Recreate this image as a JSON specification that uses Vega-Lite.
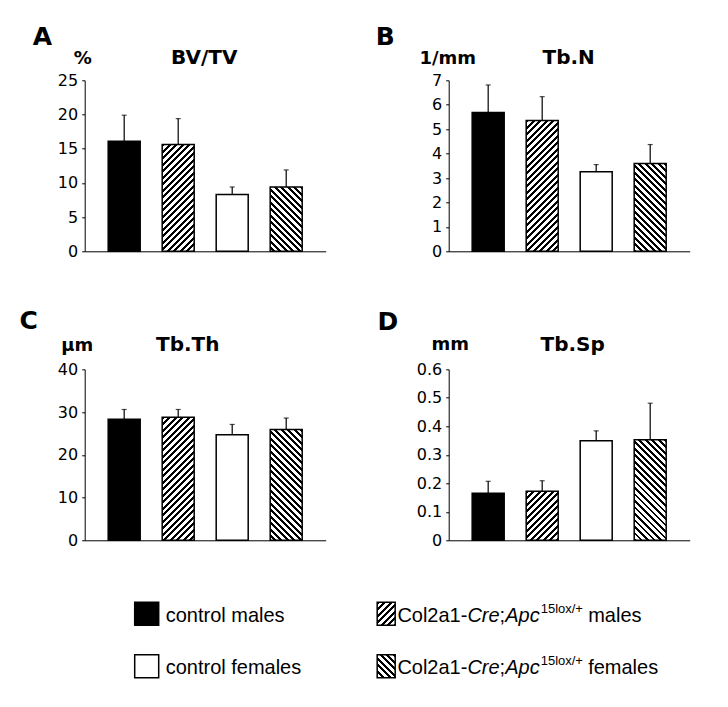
{
  "$schema": "https://vega.github.io/schema/vega-lite/v6.json",
  "background": "white",
  "padding": {"left": 18.7, "top": 24.3, "right": 5, "bottom": 5},
  "config": {
    "view": {"stroke": null},
    "axis": {"grid": false, "labelOverlap": false, "labelFont": "DejaVu Sans", "labelFontSize": 16, "labelColor": "black", "labelPadding": 4, "tickSize": 3, "tickColor": "black", "domainColor": "black", "titleFont": "DejaVu Sans", "titleFontWeight": "bold", "titleColor": "black"},
    "title": {"font": "DejaVu Sans", "fontSize": 25, "fontWeight": "bold", "color": "black"}
  },
  "params": [
    {"name": "hatch", "value": [
{"offset":0,"color":"#000"},{"offset":0.01731,"color":"#000"},{"offset":0.01731,"color":"#fff"},{"offset":0.03846,"color":"#fff"},
{"offset":0.03846,"color":"#000"},{"offset":0.05577,"color":"#000"},{"offset":0.05577,"color":"#fff"},{"offset":0.07692,"color":"#fff"},
{"offset":0.07692,"color":"#000"},{"offset":0.09423,"color":"#000"},{"offset":0.09423,"color":"#fff"},{"offset":0.11538,"color":"#fff"},
{"offset":0.11538,"color":"#000"},{"offset":0.13269,"color":"#000"},{"offset":0.13269,"color":"#fff"},{"offset":0.15385,"color":"#fff"},
{"offset":0.15385,"color":"#000"},{"offset":0.17115,"color":"#000"},{"offset":0.17115,"color":"#fff"},{"offset":0.19231,"color":"#fff"},
{"offset":0.19231,"color":"#000"},{"offset":0.20962,"color":"#000"},{"offset":0.20962,"color":"#fff"},{"offset":0.23077,"color":"#fff"},
{"offset":0.23077,"color":"#000"},{"offset":0.24808,"color":"#000"},{"offset":0.24808,"color":"#fff"},{"offset":0.26923,"color":"#fff"},
{"offset":0.26923,"color":"#000"},{"offset":0.28654,"color":"#000"},{"offset":0.28654,"color":"#fff"},{"offset":0.30769,"color":"#fff"},
{"offset":0.30769,"color":"#000"},{"offset":0.325,"color":"#000"},{"offset":0.325,"color":"#fff"},{"offset":0.34615,"color":"#fff"},
{"offset":0.34615,"color":"#000"},{"offset":0.36346,"color":"#000"},{"offset":0.36346,"color":"#fff"},{"offset":0.38462,"color":"#fff"},
{"offset":0.38462,"color":"#000"},{"offset":0.40192,"color":"#000"},{"offset":0.40192,"color":"#fff"},{"offset":0.42308,"color":"#fff"},
{"offset":0.42308,"color":"#000"},{"offset":0.44038,"color":"#000"},{"offset":0.44038,"color":"#fff"},{"offset":0.46154,"color":"#fff"},
{"offset":0.46154,"color":"#000"},{"offset":0.47885,"color":"#000"},{"offset":0.47885,"color":"#fff"},{"offset":0.5,"color":"#fff"},
{"offset":0.5,"color":"#000"},{"offset":0.51731,"color":"#000"},{"offset":0.51731,"color":"#fff"},{"offset":0.53846,"color":"#fff"},
{"offset":0.53846,"color":"#000"},{"offset":0.55577,"color":"#000"},{"offset":0.55577,"color":"#fff"},{"offset":0.57692,"color":"#fff"},
{"offset":0.57692,"color":"#000"},{"offset":0.59423,"color":"#000"},{"offset":0.59423,"color":"#fff"},{"offset":0.61538,"color":"#fff"},
{"offset":0.61538,"color":"#000"},{"offset":0.63269,"color":"#000"},{"offset":0.63269,"color":"#fff"},{"offset":0.65385,"color":"#fff"},
{"offset":0.65385,"color":"#000"},{"offset":0.67115,"color":"#000"},{"offset":0.67115,"color":"#fff"},{"offset":0.69231,"color":"#fff"},
{"offset":0.69231,"color":"#000"},{"offset":0.70962,"color":"#000"},{"offset":0.70962,"color":"#fff"},{"offset":0.73077,"color":"#fff"},
{"offset":0.73077,"color":"#000"},{"offset":0.74808,"color":"#000"},{"offset":0.74808,"color":"#fff"},{"offset":0.76923,"color":"#fff"},
{"offset":0.76923,"color":"#000"},{"offset":0.78654,"color":"#000"},{"offset":0.78654,"color":"#fff"},{"offset":0.80769,"color":"#fff"},
{"offset":0.80769,"color":"#000"},{"offset":0.825,"color":"#000"},{"offset":0.825,"color":"#fff"},{"offset":0.84615,"color":"#fff"},
{"offset":0.84615,"color":"#000"},{"offset":0.86346,"color":"#000"},{"offset":0.86346,"color":"#fff"},{"offset":0.88462,"color":"#fff"},
{"offset":0.88462,"color":"#000"},{"offset":0.90192,"color":"#000"},{"offset":0.90192,"color":"#fff"},{"offset":0.92308,"color":"#fff"},
{"offset":0.92308,"color":"#000"},{"offset":0.94038,"color":"#000"},{"offset":0.94038,"color":"#fff"},{"offset":0.96154,"color":"#fff"},
{"offset":0.96154,"color":"#000"},{"offset":0.97885,"color":"#000"},{"offset":0.97885,"color":"#fff"},{"offset":1,"color":"#fff"}
    ]}
  ],
  "datasets": {
    "bars": [
      {"panel": "A", "grp": "cm", "value": 16.1, "hi": 19.9},
      {"panel": "A", "grp": "mm", "value": 15.6, "hi": 19.4},
      {"panel": "A", "grp": "cf", "value": 8.3, "hi": 9.4},
      {"panel": "A", "grp": "mf", "value": 9.4, "hi": 11.9},
      {"panel": "B", "grp": "cm", "value": 5.68, "hi": 6.81},
      {"panel": "B", "grp": "mm", "value": 5.35, "hi": 6.33},
      {"panel": "B", "grp": "cf", "value": 3.26, "hi": 3.55},
      {"panel": "B", "grp": "mf", "value": 3.59, "hi": 4.37},
      {"panel": "C", "grp": "cm", "value": 28.3, "hi": 30.6},
      {"panel": "C", "grp": "mm", "value": 28.8, "hi": 30.6},
      {"panel": "C", "grp": "cf", "value": 24.7, "hi": 27.1},
      {"panel": "C", "grp": "mf", "value": 25.9, "hi": 28.6},
      {"panel": "D", "grp": "cm", "value": 0.165, "hi": 0.207},
      {"panel": "D", "grp": "mm", "value": 0.172, "hi": 0.209},
      {"panel": "D", "grp": "cf", "value": 0.349, "hi": 0.384},
      {"panel": "D", "grp": "mf", "value": 0.353, "hi": 0.481}
    ],
    "legend": [
      {"grp": "cm", "geno": "control", "sex": "males", "label": "control males"},
      {"grp": "cf", "geno": "control", "sex": "females", "label": "control females"},
      {"grp": "mm", "geno": "mutant", "sex": "males", "label": "males"},
      {"grp": "mf", "geno": "mutant", "sex": "females", "label": "females"}
    ]
  },
  "spacing": 39.25,
  "vconcat": [
    {
      "columns": 2,
      "bounds": "flush",
      "spacing": {"row": 118, "column": 123},
      "concat": [
        {
          "width": 241, "height": 171,
          "title": {"text": "A", "anchor": "start", "frame": "group", "dx": -52, "offset": -23.3, "baseline": "alphabetic"},
          "data": {"name": "bars"},
          "transform": [{"filter": "datum.panel === 'A'"}],
          "encoding": {"x": {"field": "grp", "type": "nominal", "sort": ["cm", "mm", "cf", "mf"], "scale": {"paddingInner": 0.4074, "paddingOuter": 0.435},
            "axis": {"title": "BV/TV", "titleX": 119, "titleY": -188.3, "titleAlign": "center", "titleBaseline": "alphabetic", "titleFontSize": 20, "labels": false, "ticks": false}}},
          "layer": [
            {"transform": [{"filter": "datum.grp === 'cm' || datum.grp === 'cf'"}],
             "mark": {"type": "bar", "stroke": "black", "strokeWidth": 1.5},
             "encoding": {"y": {"field": "value", "type": "quantitative", "scale": {"domain": [0, 25], "nice": false},
                "axis": {"title": "%", "values": [0, 5, 10, 15, 20, 25], "labelOverlap": false, "titleAngle": 0, "titleX": -2.5, "titleY": -17.3, "titleAlign": "center", "titleBaseline": "alphabetic", "titleFontSize": 18}},
                "fill": {"condition": {"test": "datum.grp === 'cm'", "value": "black"}, "value": "white"}}},
            {"transform": [{"filter": "datum.grp === 'mm'"}],
             "mark": {"type": "bar", "stroke": "black", "strokeWidth": 1.5, "fill": {"expr": "{gradient: 'linear', x1: 0, y1: 0, x2: 0.4358, y2: 1.4532, stops: hatch}"}},
             "encoding": {"y": {"field": "value", "type": "quantitative", "scale": {"domain": [0, 25], "nice": false},
                "axis": {"title": "%", "values": [0, 5, 10, 15, 20, 25], "labelOverlap": false, "titleAngle": 0, "titleX": -2.5, "titleY": -17.3, "titleAlign": "center", "titleBaseline": "alphabetic", "titleFontSize": 18}}}},
            {"transform": [{"filter": "datum.grp === 'mf'"}],
             "mark": {"type": "bar", "stroke": "black", "strokeWidth": 1.5, "fill": {"expr": "{gradient: 'linear', x1: 1, y1: 0, x2: -0.0484, y2: 2.1065, stops: hatch}"}},
             "encoding": {"y": {"field": "value", "type": "quantitative", "scale": {"domain": [0, 25], "nice": false},
                "axis": {"title": "%", "values": [0, 5, 10, 15, 20, 25], "labelOverlap": false, "titleAngle": 0, "titleX": -2.5, "titleY": -17.3, "titleAlign": "center", "titleBaseline": "alphabetic", "titleFontSize": 18}}}},
            {"mark": {"type": "rule", "color": "black", "strokeWidth": 1.2},
             "encoding": {"y": {"field": "value", "type": "quantitative", "scale": {"domain": [0, 25], "nice": false},
                "axis": {"title": "%", "values": [0, 5, 10, 15, 20, 25], "labelOverlap": false, "titleAngle": 0, "titleX": -2.5, "titleY": -17.3, "titleAlign": "center", "titleBaseline": "alphabetic", "titleFontSize": 18}}, "y2": {"field": "hi"}}},
            {"mark": {"type": "tick", "color": "black", "size": 5, "thickness": 1.2},
             "encoding": {"y": {"field": "hi", "type": "quantitative", "scale": {"domain": [0, 25], "nice": false},
                "axis": {"title": "%", "values": [0, 5, 10, 15, 20, 25], "labelOverlap": false, "titleAngle": 0, "titleX": -2.5, "titleY": -17.3, "titleAlign": "center", "titleBaseline": "alphabetic", "titleFontSize": 18}}}}
          ]
        },
        {
          "width": 241, "height": 171,
          "title": {"text": "B", "anchor": "start", "frame": "group", "dx": -73, "offset": -22.6, "baseline": "alphabetic"},
          "data": {"name": "bars"},
          "transform": [{"filter": "datum.panel === 'B'"}],
          "encoding": {"x": {"field": "grp", "type": "nominal", "sort": ["cm", "mm", "cf", "mf"], "scale": {"paddingInner": 0.4074, "paddingOuter": 0.435},
            "axis": {"title": "Tb.N", "titleX": 119.5, "titleY": -188.3, "titleAlign": "center", "titleBaseline": "alphabetic", "titleFontSize": 20, "labels": false, "ticks": false}}},
          "layer": [
            {"transform": [{"filter": "datum.grp === 'cm' || datum.grp === 'cf'"}],
             "mark": {"type": "bar", "stroke": "black", "strokeWidth": 1.5},
             "encoding": {"y": {"field": "value", "type": "quantitative", "scale": {"domain": [0, 7], "nice": false},
                "axis": {"title": "1/mm", "values": [0, 1, 2, 3, 4, 5, 6, 7], "labelOverlap": false, "titleAngle": 0, "titleX": -1.5, "titleY": -17.3, "titleAlign": "center", "titleBaseline": "alphabetic", "titleFontSize": 18}},
                "fill": {"condition": {"test": "datum.grp === 'cm'", "value": "black"}, "value": "white"}}},
            {"transform": [{"filter": "datum.grp === 'mm'"}],
             "mark": {"type": "bar", "stroke": "black", "strokeWidth": 1.5, "fill": {"expr": "{gradient: 'linear', x1: 0, y1: 0, x2: 0.2987, y2: 1.2199, stops: hatch}"}},
             "encoding": {"y": {"field": "value", "type": "quantitative", "scale": {"domain": [0, 7], "nice": false},
                "axis": {"title": "1/mm", "values": [0, 1, 2, 3, 4, 5, 6, 7], "labelOverlap": false, "titleAngle": 0, "titleX": -1.5, "titleY": -17.3, "titleAlign": "center", "titleBaseline": "alphabetic", "titleFontSize": 18}}}},
            {"transform": [{"filter": "datum.grp === 'mf'"}],
             "mark": {"type": "bar", "stroke": "black", "strokeWidth": 1.5, "fill": {"expr": "{gradient: 'linear', x1: 1, y1: 0, x2: 0.3795, y2: 1.7006, stops: hatch}"}},
             "encoding": {"y": {"field": "value", "type": "quantitative", "scale": {"domain": [0, 7], "nice": false},
                "axis": {"title": "1/mm", "values": [0, 1, 2, 3, 4, 5, 6, 7], "labelOverlap": false, "titleAngle": 0, "titleX": -1.5, "titleY": -17.3, "titleAlign": "center", "titleBaseline": "alphabetic", "titleFontSize": 18}}}},
            {"mark": {"type": "rule", "color": "black", "strokeWidth": 1.2},
             "encoding": {"y": {"field": "value", "type": "quantitative", "scale": {"domain": [0, 7], "nice": false},
                "axis": {"title": "1/mm", "values": [0, 1, 2, 3, 4, 5, 6, 7], "labelOverlap": false, "titleAngle": 0, "titleX": -1.5, "titleY": -17.3, "titleAlign": "center", "titleBaseline": "alphabetic", "titleFontSize": 18}}, "y2": {"field": "hi"}}},
            {"mark": {"type": "tick", "color": "black", "size": 5, "thickness": 1.2},
             "encoding": {"y": {"field": "hi", "type": "quantitative", "scale": {"domain": [0, 7], "nice": false},
                "axis": {"title": "1/mm", "values": [0, 1, 2, 3, 4, 5, 6, 7], "labelOverlap": false, "titleAngle": 0, "titleX": -1.5, "titleY": -17.3, "titleAlign": "center", "titleBaseline": "alphabetic", "titleFontSize": 18}}}}
          ]
        },
        {
          "width": 241, "height": 171,
          "title": {"text": "C", "anchor": "start", "frame": "group", "dx": -65.3, "offset": -19.3, "baseline": "alphabetic"},
          "data": {"name": "bars"},
          "transform": [{"filter": "datum.panel === 'C'"}],
          "encoding": {"x": {"field": "grp", "type": "nominal", "sort": ["cm", "mm", "cf", "mf"], "scale": {"paddingInner": 0.4074, "paddingOuter": 0.435},
            "axis": {"title": "Tb.Th", "titleX": 102.5, "titleY": -189.3, "titleAlign": "center", "titleBaseline": "alphabetic", "titleFontSize": 20, "labels": false, "ticks": false}}},
          "layer": [
            {"transform": [{"filter": "datum.grp === 'cm' || datum.grp === 'cf'"}],
             "mark": {"type": "bar", "stroke": "black", "strokeWidth": 1.5},
             "encoding": {"y": {"field": "value", "type": "quantitative", "scale": {"domain": [0, 40], "nice": false},
                "axis": {"title": "µm", "values": [0, 10, 20, 30, 40], "labelOverlap": false, "titleAngle": 0, "titleX": -8, "titleY": -18.3, "titleAlign": "center", "titleBaseline": "alphabetic", "titleFontSize": 18}},
                "fill": {"condition": {"test": "datum.grp === 'cm'", "value": "black"}, "value": "white"}}},
            {"transform": [{"filter": "datum.grp === 'mm'"}],
             "mark": {"type": "bar", "stroke": "black", "strokeWidth": 1.5, "fill": {"expr": "{gradient: 'linear', x1: 0, y1: 0, x2: 0.3343, y2: 1.2860, stops: hatch}"}},
             "encoding": {"y": {"field": "value", "type": "quantitative", "scale": {"domain": [0, 40], "nice": false},
                "axis": {"title": "µm", "values": [0, 10, 20, 30, 40], "labelOverlap": false, "titleAngle": 0, "titleX": -8, "titleY": -18.3, "titleAlign": "center", "titleBaseline": "alphabetic", "titleFontSize": 18}}}},
            {"transform": [{"filter": "datum.grp === 'mf'"}],
             "mark": {"type": "bar", "stroke": "black", "strokeWidth": 1.5, "fill": {"expr": "{gradient: 'linear', x1: 1, y1: 0, x2: 0.5927, y2: 1.4089, stops: hatch}"}},
             "encoding": {"y": {"field": "value", "type": "quantitative", "scale": {"domain": [0, 40], "nice": false},
                "axis": {"title": "µm", "values": [0, 10, 20, 30, 40], "labelOverlap": false, "titleAngle": 0, "titleX": -8, "titleY": -18.3, "titleAlign": "center", "titleBaseline": "alphabetic", "titleFontSize": 18}}}},
            {"mark": {"type": "rule", "color": "black", "strokeWidth": 1.2},
             "encoding": {"y": {"field": "value", "type": "quantitative", "scale": {"domain": [0, 40], "nice": false},
                "axis": {"title": "µm", "values": [0, 10, 20, 30, 40], "labelOverlap": false, "titleAngle": 0, "titleX": -8, "titleY": -18.3, "titleAlign": "center", "titleBaseline": "alphabetic", "titleFontSize": 18}}, "y2": {"field": "hi"}}},
            {"mark": {"type": "tick", "color": "black", "size": 5, "thickness": 1.2},
             "encoding": {"y": {"field": "hi", "type": "quantitative", "scale": {"domain": [0, 40], "nice": false},
                "axis": {"title": "µm", "values": [0, 10, 20, 30, 40], "labelOverlap": false, "titleAngle": 0, "titleX": -8, "titleY": -18.3, "titleAlign": "center", "titleBaseline": "alphabetic", "titleFontSize": 18}}}}
          ]
        },
        {
          "width": 241, "height": 171,
          "title": {"text": "D", "anchor": "start", "frame": "group", "dx": -71.3, "offset": -20.3, "baseline": "alphabetic"},
          "data": {"name": "bars"},
          "transform": [{"filter": "datum.panel === 'D'"}],
          "encoding": {"x": {"field": "grp", "type": "nominal", "sort": ["cm", "mm", "cf", "mf"], "scale": {"paddingInner": 0.4074, "paddingOuter": 0.435},
            "axis": {"title": "Tb.Sp", "titleX": 123.5, "titleY": -190, "titleAlign": "center", "titleBaseline": "alphabetic", "titleFontSize": 20, "labels": false, "ticks": false}}},
          "layer": [
            {"transform": [{"filter": "datum.grp === 'cm' || datum.grp === 'cf'"}],
             "mark": {"type": "bar", "stroke": "black", "strokeWidth": 1.5},
             "encoding": {"y": {"field": "value", "type": "quantitative", "scale": {"domain": [0, 0.6], "nice": false},
                "axis": {"title": "mm", "values": [0, 0.1, 0.2, 0.3, 0.4, 0.5, 0.6], "labelOverlap": false, "labelExpr": "datum.value === 0 ? '0' : format(datum.value, '.1f')", "titleAngle": 0, "titleX": 1, "titleY": -19.5, "titleAlign": "center", "titleBaseline": "alphabetic", "titleFontSize": 18}},
                "fill": {"condition": {"test": "datum.grp === 'cm'", "value": "black"}, "value": "white"}}},
            {"transform": [{"filter": "datum.grp === 'mm'"}],
             "mark": {"type": "bar", "stroke": "black", "strokeWidth": 1.5, "fill": {"expr": "{gradient: 'linear', x1: 0, y1: 0, x2: 1.5790, y2: 2.4178, stops: hatch}"}},
             "encoding": {"y": {"field": "value", "type": "quantitative", "scale": {"domain": [0, 0.6], "nice": false},
                "axis": {"title": "mm", "values": [0, 0.1, 0.2, 0.3, 0.4, 0.5, 0.6], "labelOverlap": false, "labelExpr": "datum.value === 0 ? '0' : format(datum.value, '.1f')", "titleAngle": 0, "titleX": 1, "titleY": -19.5, "titleAlign": "center", "titleBaseline": "alphabetic", "titleFontSize": 18}}}},
            {"transform": [{"filter": "datum.grp === 'mf'"}],
             "mark": {"type": "bar", "stroke": "black", "strokeWidth": 1.5, "fill": {"expr": "{gradient: 'linear', x1: 1, y1: 0, x2: 0.5147, y2: 1.5256, stops: hatch}"}},
             "encoding": {"y": {"field": "value", "type": "quantitative", "scale": {"domain": [0, 0.6], "nice": false},
                "axis": {"title": "mm", "values": [0, 0.1, 0.2, 0.3, 0.4, 0.5, 0.6], "labelOverlap": false, "labelExpr": "datum.value === 0 ? '0' : format(datum.value, '.1f')", "titleAngle": 0, "titleX": 1, "titleY": -19.5, "titleAlign": "center", "titleBaseline": "alphabetic", "titleFontSize": 18}}}},
            {"mark": {"type": "rule", "color": "black", "strokeWidth": 1.2},
             "encoding": {"y": {"field": "value", "type": "quantitative", "scale": {"domain": [0, 0.6], "nice": false},
                "axis": {"title": "mm", "values": [0, 0.1, 0.2, 0.3, 0.4, 0.5, 0.6], "labelOverlap": false, "labelExpr": "datum.value === 0 ? '0' : format(datum.value, '.1f')", "titleAngle": 0, "titleX": 1, "titleY": -19.5, "titleAlign": "center", "titleBaseline": "alphabetic", "titleFontSize": 18}}, "y2": {"field": "hi"}}},
            {"mark": {"type": "tick", "color": "black", "size": 5, "thickness": 1.2},
             "encoding": {"y": {"field": "hi", "type": "quantitative", "scale": {"domain": [0, 0.6], "nice": false},
                "axis": {"title": "mm", "values": [0, 0.1, 0.2, 0.3, 0.4, 0.5, 0.6], "labelOverlap": false, "labelExpr": "datum.value === 0 ? '0' : format(datum.value, '.1f')", "titleAngle": 0, "titleX": 1, "titleY": -19.5, "titleAlign": "center", "titleBaseline": "alphabetic", "titleFontSize": 18}}}}
          ]
        }
      ]
    },
    {
      "width": 363.5, "height": 105,
      "data": {"name": "legend"},
      "encoding": {
        "x": {"field": "geno", "type": "nominal", "sort": ["control", "mutant"], "scale": {"type": "point", "padding": 0.2589}, "axis": null},
        "y": {"field": "sex", "type": "nominal", "sort": ["males", "females"], "scale": {"type": "point", "padding": 0.5}, "axis": null}
      },
      "layer": [
        {"transform": [{"filter": "datum.geno === 'control'"}],
         "mark": {"type": "point", "shape": "M-1,-0.958H1V0.958H-1Z", "size": 576, "filled": true, "opacity": 1, "stroke": "black", "strokeWidth": 1.5},
         "encoding": {"fill": {"condition": {"test": "datum.sex === 'males'", "value": "black"}, "value": "white"}}},
        {"transform": [{"filter": "datum.grp === 'mm'"}],
         "mark": {"type": "point", "shape": "M-0.75,-0.958H0.75V0.958H-0.75Z", "size": 576, "filled": true, "opacity": 1, "stroke": "black", "strokeWidth": 1.5, "fill": {"expr": "{gradient: 'linear', x1: 0, y1: 0, x2: 3.566, y2: 4.557, stops: hatch}"}}},
        {"transform": [{"filter": "datum.grp === 'mf'"}],
         "mark": {"type": "point", "shape": "M-0.75,-0.958H0.75V0.958H-0.75Z", "size": 576, "filled": true, "opacity": 1, "stroke": "black", "strokeWidth": 1.5, "fill": {"expr": "{gradient: 'linear', x1: 1, y1: 0, x2: -2.566, y2: 4.557, stops: hatch}"}}},
        {"transform": [{"filter": "datum.geno === 'control'"}],
         "mark": {"type": "text", "align": "left", "baseline": "alphabetic", "dx": 19, "dy": 8, "font": "Liberation Sans", "fontSize": 20, "color": "black"},
         "encoding": {"text": {"field": "label"}}},
        {"transform": [{"filter": "datum.geno === 'mutant'"}],
         "mark": {"type": "text", "text": "Col2a1-", "align": "left", "baseline": "alphabetic", "dx": 11.2, "dy": 8, "font": "Liberation Sans", "fontSize": 20, "color": "black"}},
        {"transform": [{"filter": "datum.geno === 'mutant'"}],
         "mark": {"type": "text", "text": "Cre", "align": "left", "baseline": "alphabetic", "dx": 81.2, "dy": 8, "font": "Liberation Sans", "fontStyle": "italic", "fontSize": 20, "color": "black"}},
        {"transform": [{"filter": "datum.geno === 'mutant'"}],
         "mark": {"type": "text", "text": ";", "align": "left", "baseline": "alphabetic", "dx": 113.4, "dy": 8, "font": "Liberation Sans", "fontSize": 20, "color": "black"}},
        {"transform": [{"filter": "datum.geno === 'mutant'"}],
         "mark": {"type": "text", "text": "Apc", "align": "left", "baseline": "alphabetic", "dx": 119, "dy": 8, "font": "Liberation Sans", "fontStyle": "italic", "fontSize": 20, "color": "black"}},
        {"transform": [{"filter": "datum.geno === 'mutant'"}],
         "mark": {"type": "text", "text": "15lox/+", "align": "left", "baseline": "alphabetic", "dx": 154.5, "dy": -1, "font": "Liberation Sans", "fontSize": 13, "color": "black"}},
        {"transform": [{"filter": "datum.geno === 'mutant'"}],
         "mark": {"type": "text", "align": "left", "baseline": "alphabetic", "dx": 202, "dy": 8, "font": "Liberation Sans", "fontSize": 20, "color": "black"},
         "encoding": {"text": {"field": "label"}}}
      ]
    }
  ]
}
